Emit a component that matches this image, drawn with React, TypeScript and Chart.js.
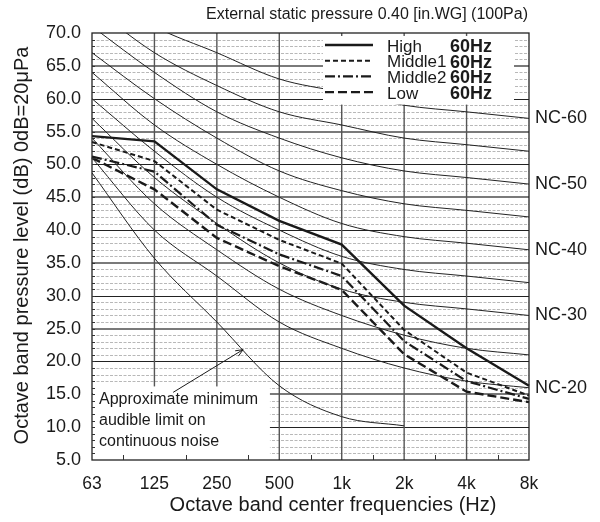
import React, { useEffect, useRef } from "react";
import { Chart, registerables } from "chart.js";

Chart.register(...registerables);

// ---- data ----
const frequencies = ["63", "125", "250", "500", "1k", "2k", "4k", "8k"];

const high = [54.3, 53.5, 46.2, 41.4, 37.8, 28.5, 22.0, 16.3];
const middle1 = [53.4, 50.5, 43.1, 38.5, 34.9, 24.8, 18.3, 14.8];
const middle2 = [51.2, 48.9, 40.8, 36.3, 33.0, 23.1, 17.0, 14.3];
const low = [51.0, 46.2, 38.8, 34.5, 30.9, 21.1, 15.4, 13.8];

const nc20 = [51, 40, 33, 26, 22, 19, 17, 16];
const nc25 = [54, 44, 37, 31, 27, 24, 22, 21];
const nc30 = [57, 48, 41, 35, 31, 29, 28, 27];
const nc35 = [60, 52, 45, 40, 36, 34, 33, 32];
const nc40 = [64, 56, 50, 45, 41, 39, 38, 37];
const nc45 = [67, 60, 54, 49, 46, 44, 43, 42];
const nc50 = [71, 64, 58, 54, 51, 49, 48, 47];
const nc55 = [74, 67, 62, 58, 56, 54, 53, 52];
const nc60 = [77, 71, 67, 63, 61, 59, 58, 57];
const audibleLimit = [48.7, 35.7, 26.0, 16.3, 11.6, 10.2, null, null];

const ncCurves = [nc20, nc25, nc30, nc35, nc40, nc45, nc50, nc55, nc60];
const ncLabelNames = ["NC-20", "NC-30", "NC-40", "NC-50", "NC-60"];
const ncLabelCurves = [nc20, nc30, nc40, nc50, nc60];

const seriesNames = ["High", "Middle1", "Middle2", "Low"];
const seriesFreq = ["60Hz", "60Hz", "60Hz", "60Hz"];
const seriesValues = [high, middle1, middle2, low];

const yMin = 5;
const yMax = 70;
const yStep = 5;

const titleText = "External static pressure 0.40 [in.WG] (100Pa)";
const xTitle = "Octave band center frequencies (Hz)";
const yTitle = "Octave band pressure level (dB) 0dB=20μPa";
const noteLines = ["Approximate minimum", "audible limit on", "continuous noise"];

// ---- styles ----
const FONT = "'Liberation Sans', Arial, sans-serif";
const INK = "#1a1a1a";
const seriesStyles = [
  { dash: [] as number[], width: 2.4 },
  { dash: [5, 3], width: 2 },
  { dash: [10, 3, 2, 3], width: 2.2 },
  { dash: [9, 4], width: 2.4 },
];

const customPlugin = {
  id: "customDecor",
  beforeDatasetsDraw(chart: any) {
    const { ctx, chartArea: ca, scales } = chart;
    const x = scales.x;
    const y = scales.y;
    ctx.save();
    // minor dashed lines every 1 dB
    ctx.lineWidth = 1;
    ctx.strokeStyle = "#b8b8b8";
    ctx.setLineDash([3, 1.5]);
    for (let v = yMin + 1; v < yMax; v++) {
      if (v % 5 === 0) continue;
      const py = Math.round(y.getPixelForValue(v)) + 0.5;
      ctx.beginPath();
      ctx.moveTo(ca.left, py);
      ctx.lineTo(ca.right, py);
      ctx.stroke();
    }
    ctx.setLineDash([]);
    // major horizontal lines
    for (let v = yMin + 5; v < yMax; v += 5) {
      const py = Math.round(y.getPixelForValue(v));
      if (v % 10 === 0) {
        ctx.strokeStyle = "#222";
        ctx.lineWidth = 1;
        ctx.beginPath();
        ctx.moveTo(ca.left, py + 0.5);
        ctx.lineTo(ca.right, py + 0.5);
      } else {
        ctx.strokeStyle = "#7a7a7a";
        ctx.lineWidth = 2;
        ctx.beginPath();
        ctx.moveTo(ca.left, py);
        ctx.lineTo(ca.right, py);
      }
      ctx.stroke();
    }
    // vertical lines
    ctx.strokeStyle = "#555";
    ctx.lineWidth = 1.4;
    for (let i = 1; i < frequencies.length - 1; i++) {
      const px = x.getPixelForValue(i);
      ctx.beginPath();
      ctx.moveTo(px, ca.top);
      ctx.lineTo(px, ca.bottom);
      ctx.stroke();
    }
    ctx.restore();
  },
  afterDatasetsDraw(chart: any) {
    const { ctx, chartArea: ca, scales } = chart;
    const x = scales.x;
    const y = scales.y;
    ctx.save();

    // legend box
    const lx0 = x.getPixelForValue(3.7);
    const lx1 = x.getPixelForValue(6.76);
    const ly0 = ca.top + 3;
    const ly1 = y.getPixelForValue(59.1);
    ctx.fillStyle = "#fff";
    ctx.fillRect(lx0, ly0, lx1 - lx0, ly1 - ly0);

    // annotation box
    const ax0 = ca.left + 1;
    const ax1 = x.getPixelForValue(2.85);
    const ay0 = y.getPixelForValue(16.2);
    ctx.fillRect(ax0, ay0, ax1 - ax0, ca.bottom - ay0);

    // legend content
    seriesNames.forEach((name, i) => {
      const rowY = ca.top + 13 + i * 15.7;
      const st = seriesStyles[i];
      ctx.strokeStyle = INK;
      ctx.lineWidth = st.width;
      ctx.setLineDash(st.dash);
      ctx.beginPath();
      ctx.moveTo(lx0 + 2, rowY - 1);
      ctx.lineTo(lx0 + 50, rowY - 1);
      ctx.stroke();
      ctx.setLineDash([]);
      ctx.fillStyle = INK;
      ctx.textBaseline = "middle";
      ctx.textAlign = "left";
      ctx.font = `17px ${FONT}`;
      ctx.fillText(name, lx0 + 64, rowY + 1);
      ctx.font = `bold 18px ${FONT}`;
      ctx.fillText(seriesFreq[i], lx0 + 127, rowY + 1);
    });

    // annotation text
    ctx.fillStyle = INK;
    ctx.font = `16px ${FONT}`;
    ctx.textAlign = "left";
    ctx.textBaseline = "middle";
    noteLines.forEach((t, i) => {
      ctx.fillText(t, ca.left + 7, ay0 + 13 + i * 21.3);
    });

    // arrow
    const tx = x.getPixelForValue(1.3);
    const ty = y.getPixelForValue(15.3);
    const hx = x.getPixelForValue(2.42);
    const hy = y.getPixelForValue(21.8);
    ctx.strokeStyle = INK;
    ctx.lineWidth = 1;
    ctx.beginPath();
    ctx.moveTo(tx, ty);
    ctx.lineTo(hx, hy);
    const ang = Math.atan2(hy - ty, hx - tx);
    const hl = 8;
    ctx.moveTo(hx - hl * Math.cos(ang - 0.4), hy - hl * Math.sin(ang - 0.4));
    ctx.lineTo(hx, hy);
    ctx.lineTo(hx - hl * Math.cos(ang + 0.4), hy - hl * Math.sin(ang + 0.4));
    ctx.stroke();

    // plot border
    ctx.strokeStyle = "#222";
    ctx.lineWidth = 1.3;
    ctx.strokeRect(ca.left, ca.top, ca.right - ca.left, ca.bottom - ca.top);

    // minor ticks left (every 1 dB)
    ctx.lineWidth = 1;
    ctx.strokeStyle = "#333";
    for (let v = yMin + 1; v < yMax; v++) {
      const py = Math.round(y.getPixelForValue(v)) + 0.5;
      ctx.beginPath();
      ctx.moveTo(ca.left, py);
      ctx.lineTo(ca.left + 3, py);
      ctx.stroke();
    }
    // minor ticks bottom at midpoints
    for (let i = 0; i < frequencies.length - 1; i++) {
      const px = Math.round(x.getPixelForValue(i + 0.5)) + 0.5;
      ctx.beginPath();
      ctx.moveTo(px, ca.bottom);
      ctx.lineTo(px, ca.bottom - 5);
      ctx.stroke();
    }

    // NC labels
    ctx.fillStyle = INK;
    ctx.font = `18px ${FONT}`;
    ctx.textAlign = "left";
    ctx.textBaseline = "middle";
    ncLabelNames.forEach((n, i) => {
      const c = ncLabelCurves[i];
      ctx.fillText(n, ca.right + 6, y.getPixelForValue(c[c.length - 1]));
    });

    // titles
    ctx.font = `16px ${FONT}`;
    ctx.textAlign = "right";
    ctx.fillText(titleText, ca.right - 1, 15);

    ctx.font = `20px ${FONT}`;
    ctx.textAlign = "center";
    ctx.fillText(xTitle, 333, 505);

    ctx.translate(22, (ca.top + ca.bottom) / 2 - 1);
    ctx.rotate(-Math.PI / 2);
    ctx.fillText(yTitle, 0, 0);

    ctx.restore();
  },
};

export default function App() {
  const ref = useRef<HTMLCanvasElement>(null);

  useEffect(() => {
    document.body.style.margin = "0";
    const datasets: any[] = [];
    ncCurves.forEach((c) => {
      datasets.push({
        data: c,
        borderColor: "#222",
        borderWidth: 1,
        pointRadius: 0,
        fill: false,
        cubicInterpolationMode: "monotone",
      });
    });
    datasets.push({
      data: audibleLimit,
      borderColor: "#222",
      borderWidth: 1,
      pointRadius: 0,
      fill: false,
      cubicInterpolationMode: "monotone",
    });
    seriesValues.forEach((vals, i) => {
      datasets.push({
        label: seriesNames[i],
        data: vals,
        borderColor: INK,
        borderWidth: seriesStyles[i].width,
        borderDash: seriesStyles[i].dash,
        pointRadius: 0,
        fill: false,
        tension: 0,
      });
    });

    const chart = new Chart(ref.current!, {
      type: "line",
      data: { labels: frequencies, datasets },
      options: {
        animation: false,
        responsive: false,
        layout: { padding: { top: 33, right: 71, bottom: 0, left: 0 } },
        plugins: { legend: { display: false }, tooltip: { enabled: false } },
        scales: {
          x: {
            type: "category",
            offset: false,
            grid: { display: false, drawTicks: false },
            border: { display: false },
            ticks: {
              color: INK,
              font: { family: FONT, size: 17.5 },
              padding: 14,
              maxRotation: 0,
              autoSkip: false,
            },
            afterFit: (s: any) => {
              s.height = 62;
            },
          },
          y: {
            min: yMin,
            max: yMax,
            grid: { display: false, drawTicks: false },
            border: { display: false },
            ticks: {
              stepSize: yStep,
              color: INK,
              font: { family: FONT, size: 18 },
              padding: 11,
              callback: (v: any) => Number(v).toFixed(1),
            },
            afterFit: (s: any) => {
              s.width = 92;
            },
          },
        },
      },
      plugins: [customPlugin],
    });
    return () => chart.destroy();
  }, []);

  return (
    <div style={{ width: 600, height: 522 }}>
      <canvas ref={ref} width={600} height={522} />
    </div>
  );
}
